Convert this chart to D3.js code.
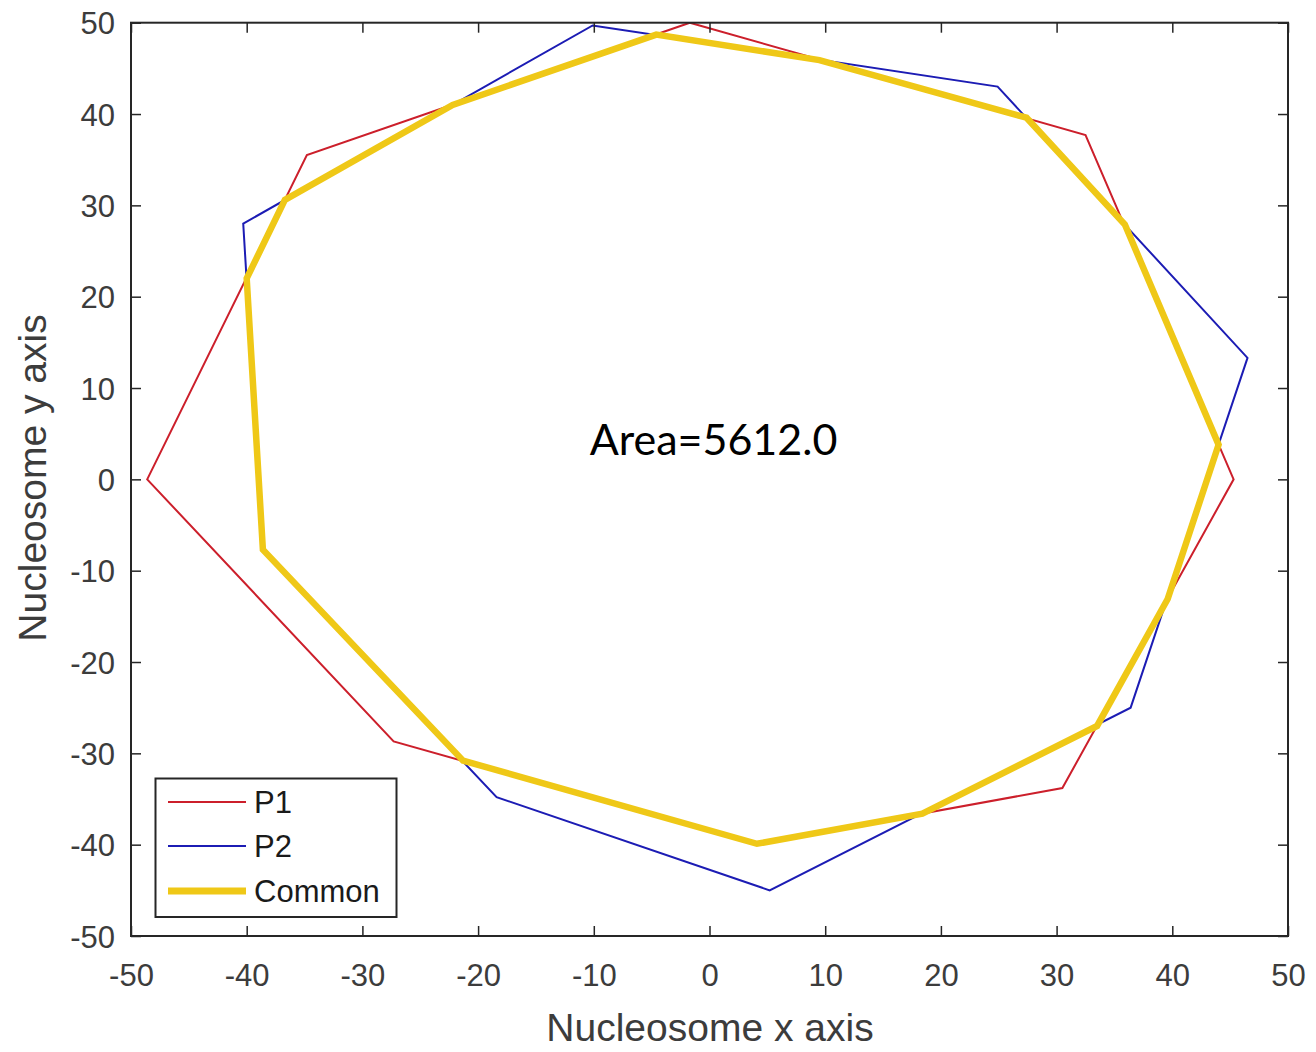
<!DOCTYPE html>
<html>
<head>
<meta charset="utf-8">
<script src="https://cdn.jsdelivr.net/npm/d3@7"></script>
<style>
  html, body { margin: 0; padding: 0; background: #fff; }
  svg { display: block; }
</style>
</head>
<body>
<svg id="chart" width="1316" height="1052"></svg>
<script>
// ---- Data ----
const p1X = [-48.6, -34.8, -1.7, 32.5, 45.3, 30.5, 4.1, -27.3];
const p1Y = [0.0, 35.5, 50.0, 37.7, 0.0, -33.8, -39.9, -28.7];

const p2X = [-40.3, -10.1, 24.9, 46.5, 36.4, 5.2, -18.4, -38.6];
const p2Y = [28.0, 49.7, 43.0, 13.3, -25.0, -45.0, -34.8, -7.7];

const commonX = [-40.0, -36.7, -22.2, -4.6, 9.5, 27.4, 35.9, 44.0, 39.6, 33.5, 18.4, 4.1, -21.3, -38.6];
const commonY = [22.0, 30.6, 41.0, 48.7, 45.9, 39.6, 27.9, 3.8, -13.1, -27.0, -36.6, -39.9, -30.8, -7.7];

const xTicks = [-50, -40, -30, -20, -10, 0, 10, 20, 30, 40, 50];
const yTicks = [-50, -40, -30, -20, -10, 0, 10, 20, 30, 40, 50];

const seriesNames = ["P1", "P2", "Common"];
const seriesColors = ["#cc1f2b", "#1c1cb4", "#efc817"];
const seriesWidths = [2, 2, 6.5];

const xLabel = "Nucleosome x axis";
const yLabel = "Nucleosome y axis";
const annotation = "Area=5612.0";
const annotationPos = [0, 4]; // data coords (x centre, y)

// ---- Layout ----
const pLeft = 131, pRight = 1288, pTop = 22.7, pBottom = 936;
const svg = d3.select("#chart");

const x = d3.scaleLinear().domain([-50, 50]).range([pLeft, pRight]);
const y = d3.scaleLinear().domain([-50, 50]).range([pBottom, pTop]);

const axisColor = "#262626";
const tickFont = "'Liberation Sans', Arial, Helvetica, sans-serif";
const fmt = d => String(d);

// polygons
const toPts = (xs, ys) => xs.map((v, i) => [v, ys[i]]);
const polys = [toPts(p1X, p1Y), toPts(p2X, p2Y), toPts(commonX, commonY)];
const line = d3.line().x(d => x(d[0])).y(d => y(d[1])).curve(d3.curveLinearClosed);

svg.append("defs").append("clipPath").attr("id", "clip")
  .append("rect").attr("x", pLeft).attr("y", pTop).attr("width", pRight - pLeft).attr("height", pBottom - pTop);

const polyG = svg.append("g").attr("clip-path", "url(#clip)");
polys.forEach((pts, i) => {
  polyG.append("path")
    .attr("d", line(pts))
    .attr("fill", "none")
    .attr("stroke", seriesColors[i])
    .attr("stroke-width", seriesWidths[i])
    .attr("stroke-linejoin", "miter");
});

// axes: bottom & left with labels, top & right tick-only (inward ticks)
const tickLen = 10;
const xAxisB = d3.axisBottom(x).tickValues(xTicks).tickSizeInner(-tickLen).tickSizeOuter(0).tickPadding(20).tickFormat(fmt);
const xAxisT = d3.axisTop(x).tickValues(xTicks).tickSizeInner(-tickLen).tickSizeOuter(0).tickFormat("");
const yAxisL = d3.axisLeft(y).tickValues(yTicks).tickSizeInner(-tickLen).tickSizeOuter(0).tickPadding(16).tickFormat(fmt);
const yAxisR = d3.axisRight(y).tickValues(yTicks).tickSizeInner(-tickLen).tickSizeOuter(0).tickFormat("");

function styleAxis(g) {
  g.select(".domain").remove();
  g.selectAll(".tick line").attr("stroke", axisColor).attr("stroke-width", 1.5);
  g.selectAll(".tick text").attr("fill", "#3c3c3c").attr("font-size", 31).attr("font-family", tickFont);
}

const gB = svg.append("g").attr("transform", `translate(0,${pBottom})`).call(xAxisB).call(styleAxis);
gB.selectAll(".tick text").attr("dy", null).attr("y", 50);
svg.append("g").attr("transform", `translate(0,${pTop})`).call(xAxisT).call(styleAxis);
const gL = svg.append("g").attr("transform", `translate(${pLeft},0)`).call(yAxisL).call(styleAxis);
gL.selectAll(".tick text").attr("dy", "0.36em").attr("x", -16);
svg.append("g").attr("transform", `translate(${pRight},0)`).call(yAxisR).call(styleAxis);

// box
svg.append("rect")
  .attr("x", pLeft).attr("y", pTop).attr("width", pRight - pLeft).attr("height", pBottom - pTop)
  .attr("fill", "none").attr("stroke", axisColor).attr("stroke-width", 2);

// axis labels
svg.append("text")
  .attr("x", 710).attr("y", 1041)
  .attr("text-anchor", "middle")
  .attr("font-family", tickFont).attr("font-size", 39).attr("fill", "#3c3c3c")
  .text(xLabel);

svg.append("text")
  .attr("transform", `translate(46,478) rotate(-90)`)
  .attr("text-anchor", "middle")
  .attr("font-family", tickFont).attr("font-size", 39).attr("fill", "#3c3c3c")
  .text(yLabel);

// annotation
svg.append("text")
  .attr("x", x(annotationPos[0]) + 4).attr("y", y(annotationPos[1]) + 12)
  .attr("text-anchor", "middle")
  .attr("font-family", "Lato, 'Open Sans', sans-serif").attr("font-size", 43).attr("fill", "#000")
  .text(annotation);

// legend
const lg = svg.append("g");
lg.append("rect").attr("x", 155.5).attr("y", 778.5).attr("width", 241).attr("height", 138.5)
  .attr("fill", "#fff").attr("stroke", axisColor).attr("stroke-width", 2);
const legendY = [802, 846, 891];
seriesNames.forEach((name, i) => {
  lg.append("line").attr("x1", 168).attr("x2", 246).attr("y1", legendY[i]).attr("y2", legendY[i])
    .attr("stroke", seriesColors[i]).attr("stroke-width", seriesWidths[i] === 2 ? 2 : 7);
  lg.append("text").attr("x", 254).attr("y", legendY[i] + 11)
    .attr("font-family", tickFont).attr("font-size", 31).attr("fill", "#1a1a1a")
    .text(name);
});
</script>
</body>
</html>
